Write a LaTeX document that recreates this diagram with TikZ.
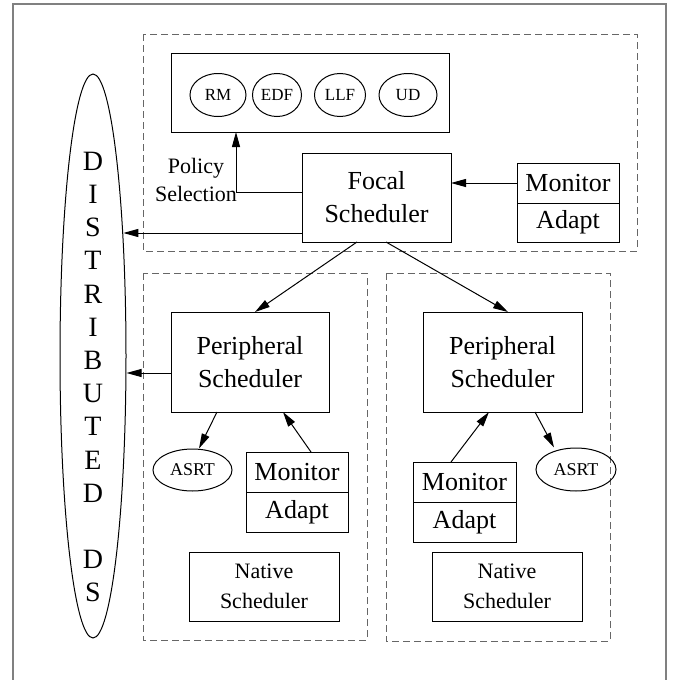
\documentclass[tikz,border=0pt]{standalone}
\usepackage{fontspec}
\setmainfont{Liberation Serif}
\usetikzlibrary{shapes.geometric,arrows.meta,positioning}

\begin{document}
\begin{tikzpicture}[x=0.5pt,y=-0.5pt,
		box/.style={draw,line width=0.5pt,rectangle,inner sep=0pt,outer sep=0pt,align=center,font=\fontsize{13}{16.5}\selectfont},
		small/.style={draw,line width=0.5pt,rectangle,inner sep=0pt,align=center,font=\fontsize{11}{15}\selectfont},
		alg/.style={ellipse,draw,line width=0.5pt,inner sep=0pt,minimum height=21.5pt,font=\fontsize{8.5}{10}\selectfont},
		grp/.style={draw=black!60,dash pattern=on 3.5pt off 2pt,line width=0.5pt},
		arr/.style={-{Triangle[length=7.5pt,width=4pt]},line width=0.5pt}]
	\useasboundingbox (0,0) rectangle (675,680);
	\draw[gray,line width=0.8pt] (13,680) -- (13,4) -- (666,4) -- (666,680);
	\draw[grp] (143,34) rectangle (637,251);
	\draw[grp] (143,273) rectangle (367,640);
	\draw[grp] (386,273) rectangle (610,641);

	\node[ellipse,draw,line width=0.5pt,inner sep=0pt,minimum width=33pt,minimum height=282pt] (ds) at (93,356) {};
	\node[align=center,inner sep=0pt,font=\fontsize{14}{16.6}\selectfont] (dsl) at (93,377)
		{D\\I\\S\\T\\R\\I\\B\\U\\T\\E\\D\\[16.6pt]D\\S};

	\node[box,minimum width=139pt,minimum height=39.5pt] (polbox) at (310,92.5) {};
	\node[alg,minimum width=28pt] (rm) at (218,95) {RM};
	\node[alg,minimum width=24.5pt] (edf) at (277,95) {EDF};
	\node[alg,minimum width=25.5pt] (llf) at (340,95) {LLF};
	\node[alg,minimum width=29pt] (ud) at (408,95) {UD};
	\node[align=center,inner sep=0pt,font=\fontsize{11}{14}\selectfont] (pol) at (196,180) {Policy\\Selection};

	\node[box,minimum width=74.5pt,minimum height=44.5pt] (focal) at (376.5,197.5) {Focal\\Scheduler};
	\node[box,minimum width=51pt,minimum height=20pt] (mon) at (568,183) {Monitor};
	\node[box,minimum width=51pt,minimum height=19.5pt,below=0pt of mon] (adp) {Adapt};

	\node[box,minimum width=79pt,minimum height=50pt] (pl) at (250,362) {Peripheral\\Scheduler};
	\node[alg,minimum width=39.5pt,minimum height=21pt,font=\fontsize{9}{10}\selectfont] (asrtl) at (192.5,470) {ASRT};
	\node[box,minimum width=51pt,minimum height=20pt] (monl) at (297,472) {Monitor};
	\node[box,minimum width=51pt,minimum height=20pt,below=0pt of monl] (adpl) {Adapt};
	\node[small,minimum width=75pt,minimum height=34.5pt] (natl) at (264,586.5) {Native\\Scheduler};

	\node[box,minimum width=79.5pt,minimum height=50pt] (pr) at (502.5,362) {Peripheral\\Scheduler};
	\node[alg,minimum width=40pt,minimum height=21.5pt,font=\fontsize{9}{10}\selectfont] (asrtr) at (576,469.5) {ASRT};
	\node[box,minimum width=51.5pt,minimum height=20pt] (monr) at (464.5,482) {Monitor};
	\node[box,minimum width=51.5pt,minimum height=20pt,below=0pt of monr] (adpr) {Adapt};
	\node[small,minimum width=75pt,minimum height=34.5pt] (natr) at (507,586.5) {Native\\Scheduler};

	\draw[arr] (mon.west) -- (mon.west -| focal.east);
	\draw[arr] (focal.west |- 0,192) -| (polbox.south -| 236,0);
	\draw[arr,shorten >=-1.6pt] (focal.west |- 0,233) -- (ds.east |- 0,233);
	\draw[arr] (pl.west |- 0,373) -- (ds.east |- 0,373);
	\draw[arr] ([xshift=-9.75pt]focal.south) -- ([xshift=2.5pt]pl.north);
	\draw[arr] ([xshift=4.75pt]focal.south) -- ([xshift=2.75pt]pr.north);
	\draw[arr] ([xshift=-16.5pt]pl.south) -- ([xshift=3.25pt]asrtl.north);
	\draw[arr] ([xshift=7pt]monl.north) -- ([xshift=16.5pt]pl.south);
	\draw[arr] ([xshift=16.25pt]pr.south) -- ([xshift=-11pt]asrtr.north);
	\draw[arr] ([xshift=-6.75pt]monr.north) -- ([xshift=-6.75pt]pr.south);
\end{tikzpicture}
\end{document}
